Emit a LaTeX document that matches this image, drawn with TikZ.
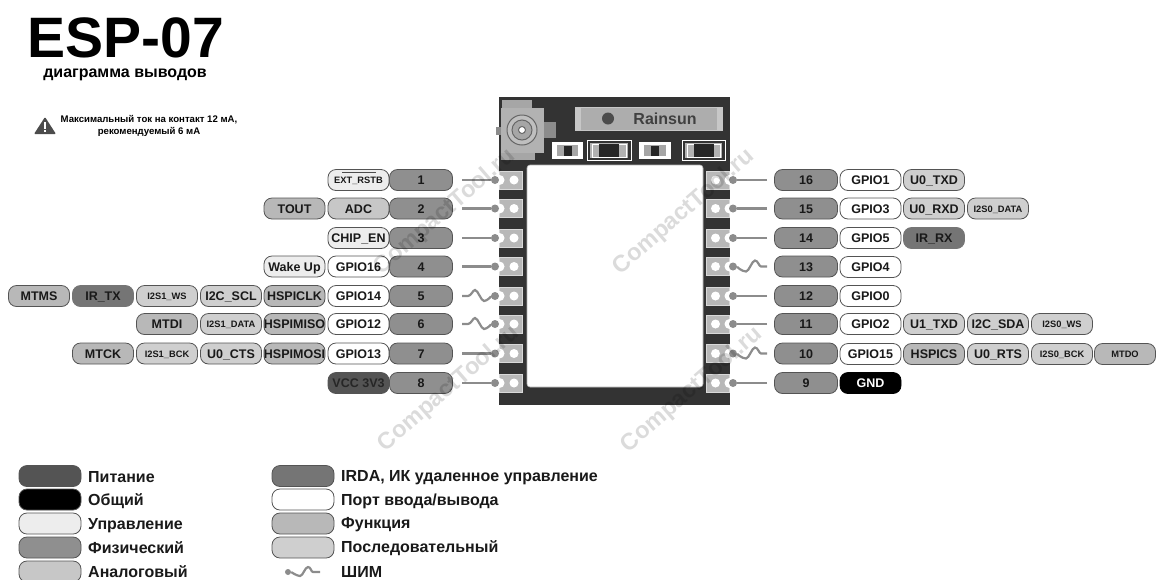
\documentclass[tikz,border=0pt]{standalone}
\usepackage{fontspec}
\setmainfont{Liberation Sans}
\definecolor{cPower}{gray}{0.33}
\definecolor{cCtrl}{gray}{0.93}
\definecolor{cPhys}{gray}{0.56}
\definecolor{cAnalog}{gray}{0.78}
\definecolor{cIrda}{gray}{0.46}
\definecolor{cFunc}{gray}{0.72}
\definecolor{cSer}{gray}{0.81}
\definecolor{cEdge}{gray}{0.33}
\definecolor{cPcb}{gray}{0.2}
\definecolor{cWire}{gray}{0.55}
\definecolor{cPad}{gray}{0.72}
\tikzset{
  x=1pt,y=-1pt,
  pill/.style={draw=cEdge,line width=0.8pt,rounded corners=8pt,minimum width=#1,minimum height=21pt,inner sep=0pt,
    text height=9pt,text depth=0pt,font=\fontsize{12.5}{14}\selectfont\bfseries,text=black!90},
  pill/.default=61pt,
  small/.style={font=\fontsize{9.3}{11}\selectfont\bfseries,text height=7pt},
  power/.style={pill,fill=cPower,text=black!85},
  gnd/.style={pill,fill=black,draw=black,text=white},
  ctrl/.style={pill,fill=cCtrl},
  phys/.style={pill,fill=cPhys,draw=cPhys!85!black},
  analog/.style={pill,fill=cAnalog},
  irda/.style={pill,fill=cIrda,draw=cIrda},
  gpio/.style={pill,fill=white},
  func/.style={pill,fill=cFunc},
  ser/.style={pill,fill=cSer},
  wire/.style={draw=cWire,line width=2.2pt},
  dot/.style={circle,fill=cWire,inner sep=0pt,minimum size=8pt},
  padbox/.style={fill=cPad,draw=white!85!black,line width=0.6pt,minimum width=23pt,minimum height=18pt,inner sep=0pt},
  hole/.style={circle,fill=white,inner sep=0pt,minimum size=9pt},
  notch/.style={circle,fill=white,inner sep=0pt,minimum size=10pt},
  legendtext/.style={anchor=west,inner sep=0pt,text height=10pt,text depth=0pt,font=\fontsize{16}{18}\selectfont\bfseries,text=black!90},
  mark text/.style={inner sep=0pt,rotate=41,text=black,opacity=0.14,font=\fontsize{23.5}{26}\selectfont\bfseries},
}
\newcommand{\pwmL}[2]{\draw[wire] (#1) -- ++(6,0) .. controls +(3,0) and +(-2,0) .. ++(7,-6) .. controls +(3,0) and +(-3,0) .. ++(9,11) .. controls +(3,0) and +(-3,0) .. (#2);}
\newcommand{\pwmR}[2]{\draw[wire] (#1) .. controls +(3,0) and +(-4,0) .. ++(13,5) .. controls +(3,0) and +(-3,0) .. ++(9,-11) .. controls +(3,0) and +(-2,0) .. ++(6,6) -- (#2);}
\begin{document}
\begin{tikzpicture}
\useasboundingbox (0,0) rectangle (1158,579);
\clip (0,0) rectangle (1158,579);
% title
\node[anchor=base,inner sep=0pt,font=\fontsize{57}{60}\selectfont\bfseries] (title) at (125.5,57) {ESP-07};
\node[anchor=base,inner sep=0pt,font=\fontsize{16}{18}\selectfont\bfseries] (sub) at (125,77) {диаграмма выводов};
\node[anchor=center,inner sep=0pt,align=center,font=\fontsize{9.6}{12}\selectfont\bfseries] (warn) at (149,126) {Максимальный ток на контакт 12 мА,\\рекомендуемый 6 мА};
\fill[black!70,rounded corners=1pt] (45,117) -- (56,134) -- (34,134) -- cycle;
\fill[white] (44,122) rectangle (46,129);
\fill[white] (44,130) rectangle (46,132);
% module
\fill[cPcb] (499,97) rectangle (730,405);
\fill[white,rounded corners=3pt,draw=black!30,line width=0.6pt] (527,165) rectangle (703,387);
% antenna connector
\fill[black!35] (502,100) rectangle (532,110);
\fill[black!45] (496,127) rectangle (503,135);
\fill[black!45] (542,122) rectangle (556,138);
\fill[black!30] (501,108) rectangle (544,153);
\fill[black!35] (501,153) rectangle (535,160);
\draw[black!60,fill=black!25,line width=1pt] (522,130) circle (15);
\draw[black!60,fill=black!35,line width=1pt] (522,130) circle (10);
\draw[black!60,fill=white,line width=1pt] (522,130) circle (3.5);
% label bar
\fill[black!22] (575,107) rectangle (723,131);
\fill[black!32] (581,108) rectangle (717,130);
\fill[black!70] (608,118.5) circle (6);
\node[inner sep=0pt,text height=11pt,text depth=0pt,font=\fontsize{16}{18}\selectfont\bfseries,text=black!75] (brand) at (665,119) {Rainsun};
% smd parts
\foreach \xa/\xb in {552/583,639/671}{
  \fill[white] (\xa,142) rectangle (\xb,159);
  \fill[black!35] (\xa+5,145) rectangle (\xb-5,156);
  \fill[black!85] ({(\xa+\xb)/2-4},146) rectangle ({(\xa+\xb)/2+4},156);
}
\foreach \xa/\xb in {587/631,682/725}{
  \draw[white,line width=1pt] (\xa,140.5) rectangle (\xb,160.5);
  \fill[black!30] (\xa+3,143) rectangle (\xb-3,158);
  \draw[white,line width=0.8pt] (\xa+5,144) rectangle (\xb-5,157);
  \fill[black!85] ({(\xa+\xb)/2-10},144) rectangle ({(\xa+\xb)/2+10},157);
}
% pads, dots and number pills
\foreach \n/\y in {1/180,2/208.5,3/238,4/266.5,5/296,6/324,7/353.5,8/383}{
  \node[padbox,anchor=west] (padL\n) at (499,\y) {};
  \node[hole] (holeL\n) at (514,\y) {};
  \node[notch] at (499.5,\y) {};
  \node[dot] (dot\n) at (495,\y) {};
  \coordinate (s\n) at (462,\y);
  \node[phys,pill=63pt] (pin\n) at (421,\y) {\n};
}
\foreach \n/\y in {16/180,15/208.5,14/238,13/266.5,12/296,11/324,10/353.5,9/383}{
  \node[padbox,anchor=east] (padR\n) at (730,\y) {};
  \node[hole] (holeR\n) at (715.5,\y) {};
  \node[notch] at (729.5,\y) {};
  \node[dot] (dot\n) at (733,\y) {};
  \coordinate (s\n) at (767,\y);
  \node[phys,pill=63pt] (pin\n) at (806,\y) {\n};
}
\foreach \n in {1,2,3,4,7,8,16,15,14,12,11,9}{ \draw[wire] (s\n) -- (dot\n); }
\pwmL{s5}{dot5}
\pwmL{s6}{dot6}
\pwmR{dot13}{s13}
\pwmR{dot10}{s10}
% left labels
\node[ctrl,small] (l1a) at (358.5,180) {EXT\_RSTB};
\draw[black!70,line width=0.7pt] (342,172) -- (376,172);
\node[analog] (l2a) at (358.5,208.5) {ADC};
\node[func] (l2b) at (294.5,208.5) {TOUT};
\node[ctrl] (l3a) at (358.5,238) {CHIP\_EN};
\node[gpio] (l4a) at (358.5,266.5) {GPIO16};
\node[ctrl] (l4b) at (294.5,266.5) {Wake Up};
\node[gpio] (l5a) at (358.5,296) {GPIO14};
\node[func] (l5b) at (294.5,296) {HSPICLK};
\node[ser] (l5c) at (231,296) {I2C\_SCL};
\node[ser,small] (l5d) at (167,296) {I2S1\_WS};
\node[irda] (l5e) at (103,296) {IR\_TX};
\node[func] (l5f) at (39,296) {MTMS};
\node[gpio] (l6a) at (358.5,324) {GPIO12};
\node[func] (l6b) at (294.5,324) {HSPIMISO};
\node[ser,small] (l6c) at (231,324) {I2S1\_DATA};
\node[func] (l6d) at (167,324) {MTDI};
\node[gpio] (l7a) at (358.5,353.5) {GPIO13};
\node[func] (l7b) at (294.5,353.5) {HSPIMOSI};
\node[ser] (l7c) at (231,353.5) {U0\_CTS};
\node[ser,small] (l7d) at (167,353.5) {I2S1\_BCK};
\node[func] (l7e) at (103,353.5) {MTCK};
\node[power] (l8a) at (358.5,383) {VCC 3V3};
% right labels
\node[gpio] (r16a) at (870.5,180) {GPIO1};
\node[ser] (r16b) at (934,180) {U0\_TXD};
\node[gpio] (r15a) at (870.5,208.5) {GPIO3};
\node[ser] (r15b) at (934,208.5) {U0\_RXD};
\node[ser,small] (r15c) at (998,208.5) {I2S0\_DATA};
\node[gpio] (r14a) at (870.5,238) {GPIO5};
\node[irda] (r14b) at (934,238) {IR\_RX};
\node[gpio] (r13a) at (870.5,267) {GPIO4};
\node[gpio] (r12a) at (870.5,296) {GPIO0};
\node[gpio] (r11a) at (870.5,324) {GPIO2};
\node[ser] (r11b) at (934,324) {U1\_TXD};
\node[ser] (r11c) at (998,324) {I2C\_SDA};
\node[ser,small] (r11d) at (1062,324) {I2S0\_WS};
\node[gpio] (r10a) at (870.5,354) {GPIO15};
\node[func] (r10b) at (934,354) {HSPICS};
\node[ser] (r10c) at (998,354) {U0\_RTS};
\node[ser,small] (r10d) at (1062,354) {I2S0\_BCK};
\node[func,small] (r10e) at (1125,354) {MTDO};
\node[gnd] (r9a) at (870.5,383) {GND};
% legend
\node[power,pill=62pt] (lg1) at (50,476) {};
\node[gnd,pill=62pt] (lg2) at (50,499.5) {};
\node[ctrl,pill=62pt] (lg3) at (50,523.5) {};
\node[phys,pill=62pt] (lg4) at (50,547.5) {};
\node[analog,pill=62pt] (lg5) at (50,571.5) {};
\node[legendtext] (lt1) at (88,477) {Питание};
\node[legendtext] (lt2) at (88,500) {Общий};
\node[legendtext] (lt3) at (88,524) {Управление};
\node[legendtext] (lt4) at (88,548) {Физический};
\node[legendtext] (lt5) at (88,572) {Аналоговый};
\node[irda,pill=62pt] (lg6) at (303,476) {};
\node[gpio,pill=62pt] (lg7) at (303,499.5) {};
\node[func,pill=62pt] (lg8) at (303,523.5) {};
\node[ser,pill=62pt] (lg9) at (303,547.5) {};
\node[legendtext] (lt6) at (341,476) {IRDA, ИК удаленное управление};
\node[legendtext] (lt7) at (341,500) {Порт ввода/вывода};
\node[legendtext] (lt8) at (341,523) {Функция};
\node[legendtext] (lt9) at (341,547) {Последовательный};
\node[legendtext] (lt10) at (341,572) {ШИМ};
\node[dot,minimum size=6pt] (lgdot) at (288,572) {};
\coordinate (lgend) at (320,572);
\draw[wire] (lgdot) .. controls +(3,0) and +(-3,0) .. ++(12,4) .. controls +(3,0) and +(-3,0) .. ++(8,-9) .. controls +(3,0) and +(-2,0) .. ++(5,5) -- (lgend);
% watermark
\node[mark text] (wm1) at (445,212) {CompactTool.ru};
\node[mark text] (wm2) at (684,212) {CompactTool.ru};
\node[mark text] (wm3) at (449,389) {CompactTool.ru};
\node[mark text] (wm4) at (692,390) {CompactTool.ru};
\end{tikzpicture}
\end{document}
